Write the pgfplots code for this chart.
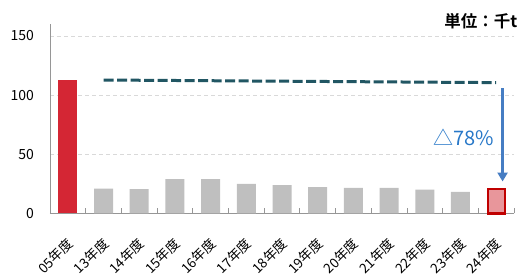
\documentclass[border=0pt]{standalone}
\usepackage{fontspec}
\setmainfont{Noto Sans CJK JP}[BoldFont={Noto Sans CJK JP Bold}]
\usepackage{pgfplots}
\pgfplotsset{compat=1.18}
\usetikzlibrary{arrows.meta}
\definecolor{redbar}{RGB}{212,38,52}
\definecolor{graybar}{RGB}{191,191,191}
\definecolor{pinkbar}{RGB}{232,150,155}
\definecolor{darkred}{RGB}{192,0,0}
\definecolor{teal}{RGB}{33,86,99}
\definecolor{arrowblue}{RGB}{70,125,195}
\definecolor{textblue}{RGB}{40,120,200}
\definecolor{axisgray}{RGB}{150,150,150}
\definecolor{gridgray}{RGB}{217,217,217}
\begin{document}
\begin{tikzpicture}
\begin{axis}[
  name=ax,
  scale only axis, width=464pt, height=189.5pt,
  xmin=-0.5, xmax=12.5, ymin=0, ymax=160,
  axis x line*=bottom, axis y line*=left,
  axis line style={draw=axisgray, line width=0.8pt},
  xtick={0,...,12},
  xticklabels={05年度,13年度,14年度,15年度,16年度,17年度,18年度,19年度,20年度,21年度,22年度,23年度,24年度},
  minor xtick={-0.5,0.5,...,12.5},
  major tick length=0pt, minor tick length=5pt,
  tick style={draw=axisgray, line width=0.8pt},
  ytick={0,50,100,150},
  ymajorgrids,
  grid style={gridgray, line width=0.6pt, dash pattern=on 4pt off 3pt},
  /pgf/number format/assume math mode=true,
  yticklabel style={font=\fontsize{14}{16}\selectfont, xshift=-12.5pt},
  xticklabel style={font=\fontsize{13.5}{15}\selectfont, xshift=5pt, yshift=-25pt, rotate=45, anchor=east},
  clip=false,
]
\addplot[ybar, bar width=19pt, fill=redbar, draw=none] coordinates {(0,113)};
\addplot[ybar, bar width=19pt, fill=graybar, draw=none] coordinates {
(1,21.1) (2,20.5) (3,29.0) (4,29.0) (5,25.0) (6,24.0) (7,22.3) (8,21.7) (9,21.7) (10,20.2) (11,18.3)};
\addplot[ybar, bar width=17pt, fill=pinkbar, draw=darkred, line width=2.2pt] coordinates {(12,20.5)};
\addplot[teal, line width=3pt, dash pattern=on 10pt off 3.5pt] coordinates {(1,112.7) (12,110.5)};
\draw[arrowblue, line width=2.5pt, -{Triangle[width=10pt,length=9pt]}] (axis cs:12.18,105.8) -- (axis cs:12.18,27);
\node[textblue, font=\fontsize{20}{22}\selectfont] at (axis cs:11.08,64.5) {△78\%};
\node[anchor=east, inner sep=0pt, font=\fontsize{16.5}{18}\selectfont\bfseries] at (axis cs:12.6,162.5) {単位：千t};
\end{axis}
\pgfresetboundingbox
\path[use as bounding box] ([shift={(-50pt,-66.5pt)}]ax.south west) rectangle ++(530pt,280pt);
\end{tikzpicture}
\end{document}
